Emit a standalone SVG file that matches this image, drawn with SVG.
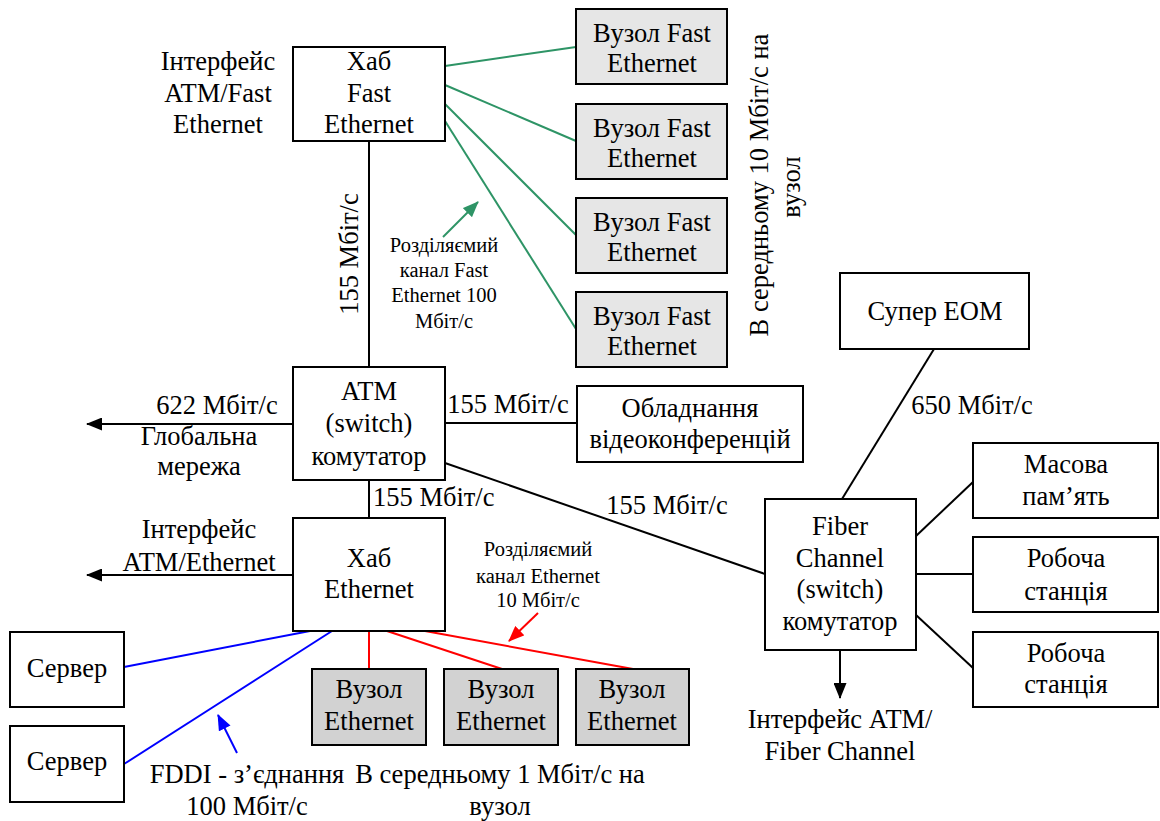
<svg xmlns="http://www.w3.org/2000/svg" width="1160" height="821" viewBox="0 0 1160 821" font-family="'Liberation Serif', 'DejaVu Serif', serif">
<style>
text{font-family:'Liberation Serif','DejaVu Serif',serif;font-size:26.5px;fill:#000;text-anchor:middle}
.s{font-size:20.5px}
.st{text-anchor:start}
.box{fill:#fff;stroke:#000;stroke-width:2}
.fe{fill:#e6e6e6;stroke:#000;stroke-width:2}
.en{fill:#d2d2d2;stroke:#000;stroke-width:2}
.k{stroke:#000;stroke-width:2;fill:none}
.g{stroke:#2e9466;stroke-width:2;fill:none}
.r{stroke:#ff0000;stroke-width:2;fill:none}
.b{stroke:#0000ff;stroke-width:2;fill:none}
</style>
<defs>
<marker id="ak" viewBox="0 0 16 13" refX="15" refY="6.5" markerWidth="16" markerHeight="13" markerUnits="userSpaceOnUse" orient="auto"><path d="M0,0 L16,6.5 L0,13 Z" fill="#000"/></marker>
<marker id="ag" viewBox="0 0 16 13" refX="15" refY="6.5" markerWidth="16" markerHeight="13" markerUnits="userSpaceOnUse" orient="auto"><path d="M0,0 L16,6.5 L0,13 Z" fill="#2e9466"/></marker>
<marker id="ar" viewBox="0 0 16 13" refX="15" refY="6.5" markerWidth="16" markerHeight="13" markerUnits="userSpaceOnUse" orient="auto"><path d="M0,0 L16,6.5 L0,13 Z" fill="#ff0000"/></marker>
<marker id="ab" viewBox="0 0 16 13" refX="15" refY="6.5" markerWidth="16" markerHeight="13" markerUnits="userSpaceOnUse" orient="auto"><path d="M0,0 L16,6.5 L0,13 Z" fill="#0000ff"/></marker>
</defs>
<rect width="1160" height="821" fill="#fff"/>

<g id="connectors">
<line class="k" x1="369" y1="141" x2="369" y2="367"/>
<line class="g" x1="445" y1="66" x2="576" y2="47"/>
<line class="g" x1="445" y1="85" x2="576" y2="141"/>
<line class="g" x1="445" y1="104" x2="576" y2="235"/>
<line class="g" x1="445" y1="121" x2="576" y2="329"/>
<line class="g" x1="443" y1="237" x2="478" y2="202" marker-end="url(#ag)"/>
<line class="k" x1="293" y1="424" x2="87" y2="424" marker-end="url(#ak)"/>
<line class="k" x1="445" y1="423" x2="577" y2="423"/>
<line class="k" x1="445" y1="463" x2="765" y2="574"/>
<line class="k" x1="369" y1="480" x2="369" y2="518"/>
<line class="k" x1="293" y1="575" x2="87" y2="575" marker-end="url(#ak)"/>
<line class="r" x1="369" y1="631" x2="369" y2="669"/>
<line class="r" x1="387" y1="631" x2="502" y2="669"/>
<line class="r" x1="425" y1="631" x2="633" y2="669"/>
<line class="r" x1="538" y1="613" x2="509" y2="641" marker-end="url(#ar)"/>
<line class="b" x1="124" y1="667" x2="310" y2="631"/>
<line class="b" x1="124" y1="764" x2="332" y2="631"/>
<line class="b" x1="237" y1="753" x2="218" y2="715" marker-end="url(#ab)"/>
<line class="k" x1="934" y1="349" x2="842" y2="499"/>
<line class="k" x1="840" y1="650" x2="840" y2="698" marker-end="url(#ak)"/>
<line class="k" x1="916" y1="536" x2="973" y2="482"/>
<line class="k" x1="916" y1="574" x2="973" y2="574"/>
<line class="k" x1="916" y1="615" x2="973" y2="668"/>
</g>

<g id="labels">
<text x="218" y="70">Інтерфейс</text>
<text x="218" y="102">ATM/Fast</text>
<text x="218" y="133">Ethernet</text>
<text transform="translate(358,254) rotate(-90)">155 Мбіт/с</text>
<text class="s" x="444" y="252">Розділяємий</text>
<text class="s" x="444" y="277">канал Fast</text>
<text class="s" x="444" y="302">Ethernet 100</text>
<text class="s" x="444" y="328">Мбіт/с</text>
<text transform="translate(768,185) rotate(-90)">В середньому 10 Мбіт/с на</text>
<text transform="translate(800,187) rotate(-90)">вузол</text>
<text x="217" y="414">622 Мбіт/с</text>
<text x="199" y="445">Глобальна</text>
<text x="199" y="475">мережа</text>
<text x="508" y="413">155 Мбіт/с</text>
<text x="667" y="514">155 Мбіт/с</text>
<text class="st" x="373" y="506">155 Мбіт/с</text>
<text x="199" y="538">Інтерфейс</text>
<text x="199" y="571">ATM/Ethernet</text>
<text class="s" x="538" y="556">Розділяємий</text>
<text class="s" x="538" y="583">канал Ethernet</text>
<text class="s" x="538" y="607">10 Мбіт/с</text>
<text x="247" y="783">FDDI - з’єднання</text>
<text x="247" y="815">100 Мбіт/с</text>
<text x="500" y="783">В середньому 1 Мбіт/с на</text>
<text x="500" y="815">вузол</text>
<text x="972" y="414">650 Мбіт/с</text>
<text x="840" y="728">Інтерфейс АТМ/</text>
<text x="840" y="760">Fiber Channel</text>
</g>

<g id="hub-fast">
<rect class="box" x="293" y="47" width="152" height="94"/>
<text x="369" y="70">Хаб</text>
<text x="369" y="102">Fast</text>
<text x="369" y="133">Ethernet</text>
</g>
<g id="fe-node-1"><rect class="fe" x="576" y="9" width="151" height="75"/><text x="652" y="42">Вузол Fast</text><text x="652" y="72">Ethernet</text></g>
<g id="fe-node-2"><rect class="fe" x="576" y="104" width="151" height="75"/><text x="652" y="137">Вузол Fast</text><text x="652" y="167">Ethernet</text></g>
<g id="fe-node-3"><rect class="fe" x="576" y="198" width="151" height="75"/><text x="652" y="231">Вузол Fast</text><text x="652" y="261">Ethernet</text></g>
<g id="fe-node-4"><rect class="fe" x="576" y="292" width="151" height="75"/><text x="652" y="325">Вузол Fast</text><text x="652" y="355">Ethernet</text></g>

<g id="atm">
<rect class="box" x="293" y="367" width="152" height="113"/>
<text x="369" y="400">ATM</text>
<text x="369" y="432">(switch)</text>
<text x="369" y="465">комутатор</text>
</g>
<g id="video">
<rect class="box" x="577" y="386" width="226" height="76"/>
<text x="690" y="417">Обладнання</text>
<text x="690" y="448">відеоконференцій</text>
</g>
<g id="hub-eth">
<rect class="box" x="293" y="518" width="152" height="113"/>
<text x="369" y="567">Хаб</text>
<text x="369" y="598">Ethernet</text>
</g>
<g id="server-1"><rect class="box" x="10" y="632" width="114" height="75"/><text x="67" y="677">Сервер</text></g>
<g id="server-2"><rect class="box" x="10" y="726" width="114" height="76"/><text x="67" y="770">Сервер</text></g>
<g id="eth-node-1"><rect class="en" x="312" y="669" width="114" height="76"/><text x="369" y="698">Вузол</text><text x="369" y="730">Ethernet</text></g>
<g id="eth-node-2"><rect class="en" x="444" y="669" width="114" height="76"/><text x="501" y="698">Вузол</text><text x="501" y="730">Ethernet</text></g>
<g id="eth-node-3"><rect class="en" x="576" y="669" width="113" height="76"/><text x="632" y="698">Вузол</text><text x="632" y="730">Ethernet</text></g>

<g id="super"><rect class="box" x="840" y="273" width="189" height="76"/><text x="935" y="320">Супер ЕОМ</text></g>
<g id="fiber">
<rect class="box" x="765" y="499" width="151" height="151"/>
<text x="840" y="535">Fiber</text>
<text x="840" y="567">Channel</text>
<text x="840" y="598">(switch)</text>
<text x="840" y="630">комутатор</text>
</g>
<g id="storage"><rect class="box" x="973" y="443" width="185" height="75"/><text x="1066" y="473">Масова</text><text x="1066" y="505">пам’ять</text></g>
<g id="ws-1"><rect class="box" x="973" y="537" width="185" height="75"/><text x="1066" y="567">Робоча</text><text x="1066" y="600">станція</text></g>
<g id="ws-2"><rect class="box" x="973" y="632" width="185" height="75"/><text x="1066" y="662">Робоча</text><text x="1066" y="693">станція</text></g>
</svg>
